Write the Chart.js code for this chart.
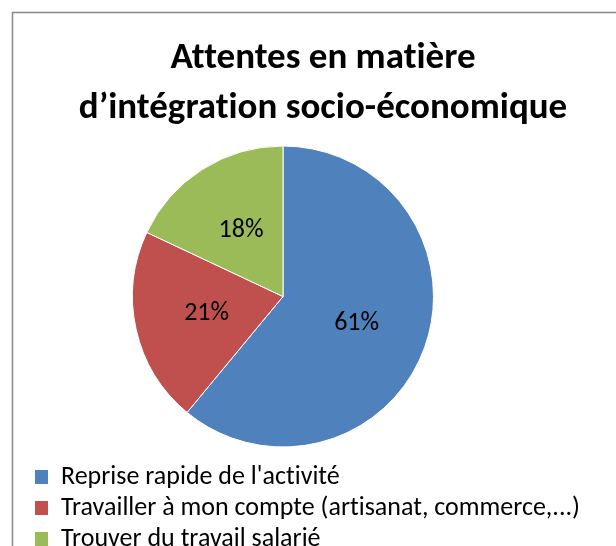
<!DOCTYPE html>
<html>
<head>
<meta charset="utf-8">
<script src="https://cdn.jsdelivr.net/npm/chart.js@4"></script>
<style>
    html, body { margin: 0; padding: 0; background: #ffffff; overflow: hidden; }
    canvas { display: block; }
</style>
</head>
<body>
<canvas id="attentes-chart" width="616" height="562"></canvas>
<script>
// Chart data
const titleLines = ["Attentes en matière", "d’intégration socio-économique"];
const categories = [
    "Reprise rapide de l'activité",
    "Travailler à mon compte (artisanat, commerce,...)",
    "Trouver du travail salarié",
];
const percentages = [61, 21, 18];
const sliceColors = ["#4F81BD", "#C0504D", "#9BBB59"];

const fontFamily = "Calibri, Carlito, Lato, sans-serif";

// No "ti" ligatures (Calibri doesn't draw them)
const noLigaturePlugin = {
    id: "noLigatures",
    beforeUpdate(chart) {
        chart.ctx.textRendering = "optimizeSpeed";
    },
    beforeDraw(chart) {
        chart.ctx.textRendering = "optimizeSpeed";
    },
};

// Grey frame around the chart (it runs past the right and bottom edges)
const framePlugin = {
    id: "frame",
    beforeDraw(chart) {
        const { ctx } = chart;
        ctx.save();
        ctx.strokeStyle = "#868686";
        ctx.lineWidth = 1.5;
        ctx.strokeRect(12.5, 12.5, 800, 800);
        ctx.restore();
    },
};

// Pie sits left of the title centre, so narrow the area used by the pie
const pieAreaPlugin = {
    id: "pieArea",
    afterLayout(chart) {
        const area = chart.chartArea;
        area.right -= 80;
        area.width = area.right - area.left;
    },
};

// Percent labels inside the slices
const sliceLabelPlugin = {
    id: "sliceLabels",
    afterDatasetsDraw(chart) {
        const { ctx } = chart;
        const meta = chart.getDatasetMeta(0);
        ctx.save();
        ctx.font = `26px ${fontFamily}`;
        ctx.fillStyle = "#000000";
        ctx.textAlign = "center";
        ctx.textBaseline = "middle";
        meta.data.forEach((arc, i) => {
            const { x, y, startAngle, endAngle, outerRadius } = arc.getProps(
                ["x", "y", "startAngle", "endAngle", "outerRadius"],
                true
            );
            const mid = (startAngle + endAngle) / 2;
            const r = outerRadius * 0.52;
            ctx.fillText(
                `${percentages[i]}%`,
                x + Math.cos(mid) * r,
                y + Math.sin(mid) * r
            );
        });
        ctx.restore();
    },
};

const ctx = document.getElementById("attentes-chart");

new Chart(ctx, {
    type: "pie",
    data: {
        labels: categories,
        datasets: [
            {
                data: percentages,
                backgroundColor: sliceColors,
                borderColor: "#ffffff",
                borderWidth: 1,
                radius: 150.5,
            },
        ],
    },
    options: {
        responsive: false,
        animation: false,
        layout: {
            padding: { left: 30, right: 0, top: 0, bottom: 0 },
        },
        plugins: {
            title: {
                display: true,
                text: titleLines,
                color: "#000000",
                font: { family: fontFamily, size: 37, weight: "bold", lineHeight: "50px" },
                padding: { top: 34, bottom: 0 },
            },
            legend: {
                position: "bottom",
                align: "start",
                labels: {
                    color: "#000000",
                    font: { family: fontFamily, size: 26 },
                    boxWidth: 13,
                    boxHeight: 14,
                    padding: 5,
                    generateLabels: () =>
                        categories.map((text, i) => ({
                            text,
                            fillStyle: sliceColors[i],
                            strokeStyle: sliceColors[i],
                            lineWidth: 0,
                            hidden: false,
                            index: i,
                            fontColor: "#000000",
                        })),
                },
            },
            tooltip: { enabled: false },
        },
    },
    plugins: [noLigaturePlugin, framePlugin, pieAreaPlugin, sliceLabelPlugin],
});
</script>
</body>
</html>
